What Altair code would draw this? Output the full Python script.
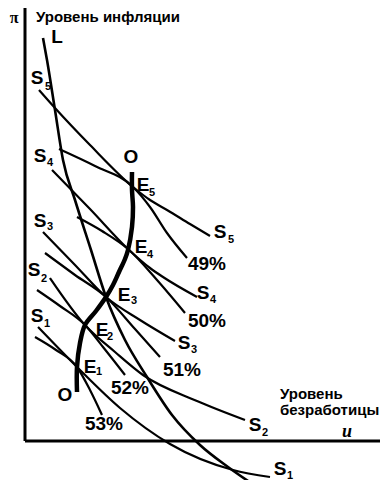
import altair as alt
import pandas as pd

# ---- curves (u = unemployment, pi = inflation, diagram units) ----
L_u = [1.8, 2.2, 3.0, 3.8, 5.0, 6.6, 8.1, 10.0, 12.2, 14.7, 17.5, 20.3, 23.2]
L_pi = [40.3, 38.1, 33.1, 28.1, 24.1, 19.1, 14.4, 10.1, 6.4, 2.6, -0.4, -2.6, -4.6]

S5_u = [1.4, 3.0, 6.5, 10.8, 12.5, 14.2, 16.5, 18.5]
S5_pi = [35.1, 33.3, 29.6, 25.4, 24.1, 23.1, 21.7, 20.5]
V49_u = [3.4, 7.0, 10.8, 12.5, 14.2, 16.2]
V49_pi = [29.2, 27.5, 25.4, 23.4, 20.8, 18.3]

S4_u = [2.7, 6.5, 10.3, 12.5, 13.8, 17.2]
S4_pi = [27.1, 23.2, 19.2, 17.3, 16.4, 14.4]
V50_u = [5.2, 7.7, 10.3, 13.2, 16.0]
V50_pi = [22.4, 21.0, 19.2, 16.1, 12.8]

S3_u = [1.8, 5.0, 8.1, 11.5, 15.0]
S3_pi = [20.9, 17.6, 14.4, 12.1, 10.0]
V51_u = [2.0, 5.0, 8.1, 11.0, 13.5]
V51_pi = [18.8, 16.6, 14.4, 11.2, 8.4]

S2_u = [2.5, 6.0, 9.0, 11.8, 17.2, 22.0]
S2_pi = [16.3, 11.6, 8.9, 6.6, 4.0, 2.1]
V52_u = [1.2, 3.5, 6.0, 7.8, 10.0]
V52_pi = [15.1, 13.5, 11.6, 9.4, 6.6]

S1_u = [1.3, 5.2, 9.5, 14.5, 20.8, 24.5]
S1_pi = [11.4, 7.4, 3.3, -0.3, -2.9, -3.6]
V53_u = [1.0, 3.1, 5.2, 6.5, 7.7]
V53_pi = [10.4, 9.1, 7.4, 5.1, 2.6]

# thick equilibrium path O-O through E1..E5
OO_u = [5.2, 5.2, 5.5, 6.0, 7.1, 8.1, 8.8, 9.4, 10.0, 10.3, 10.7, 10.8, 10.7, 10.7]
OO_pi = [4.9, 7.4, 9.8, 11.6, 13.0, 14.4, 15.6, 16.9, 18.2, 19.1, 21.4, 23.4, 25.1, 26.9]

# axes
axis_u_end = 36.0
axis_pi_top = 43.8

# ---- labels ----
main_text = ["S", "S", "S", "S", "S", "S", "S", "S", "S", "S",
             "E", "E", "E", "E", "E", "O", "O", "L",
             "49%", "50%", "51%", "52%", "53%"]
main_u = [1.2, 1.5, 1.5, 0.9, 1.2, 19.5, 17.8, 15.9, 23.0, 25.5,
          11.8, 11.6, 9.9, 7.7, 6.5, 10.6, 4.0, 3.2,
          18.2, 18.2, 15.7, 10.5, 7.9]
main_pi = [36.3, 28.5, 22.0, 17.1, 12.5, 20.9, 14.8, 9.8, 1.6, -2.8,
           25.6, 19.4, 14.6, 11.1, 7.4, 28.4, 4.6, 40.4,
           17.7, 12.0, 7.1, 5.3, 1.7]

sub_text = ["5", "4", "3", "2", "1", "5", "4", "3", "2", "1",
            "5", "4", "3", "2", "1"]
sub_u = [2.3, 2.5, 2.5, 1.9, 2.2, 20.6, 18.8, 16.9, 24.0, 26.5,
         12.7, 12.5, 10.9, 8.5, 7.4]
sub_pi = [35.4, 27.8, 21.4, 16.2, 11.7, 20.1, 14.1, 9.1, 0.8, -3.5,
          24.8, 18.6, 14.0, 10.4, 6.9]

title_text = ["Уровень инфляции", "Уровень", "безработицы"]
title_u = [1.1, 25.5, 25.5]
title_pi = [42.4, 4.7, 3.1]

pi_text = ["π"]
pi_u = [-1.1]
pi_pi = [42.3]

u_text = ["u"]
u_u = [32.2]
u_pi = [0.9]

# ---- build tables ----
thin = {"S5": (S5_u, S5_pi), "49": (V49_u, V49_pi),
        "S4": (S4_u, S4_pi), "50": (V50_u, V50_pi),
        "S3": (S3_u, S3_pi), "51": (V51_u, V51_pi),
        "S2": (S2_u, S2_pi), "52": (V52_u, V52_pi),
        "S1": (S1_u, S1_pi), "53": (V53_u, V53_pi)}


def table(curves):
    rows = []
    for name, (us, ps) in curves.items():
        for i, (u, p) in enumerate(zip(us, ps)):
            rows.append({"curve": name, "i": i, "u": u, "pi": p})
    return pd.DataFrame(rows)


thin_df = table(thin)
L_df = table({"L": (L_u, L_pi)})
OO_df = table({"OO": (OO_u, OO_pi)})
axes_df = pd.DataFrame({"u": [0.0, 0.0], "pi": [0.0, 0.0],
                        "u2": [0.0, axis_u_end], "pi2": [axis_pi_top, 0.0]})
main_df = pd.DataFrame({"t": main_text, "u": main_u, "pi": main_pi})
sub_df = pd.DataFrame({"t": sub_text, "u": sub_u, "pi": sub_pi})
title_df = pd.DataFrame({"t": title_text, "u": title_u, "pi": title_pi})
pi_df = pd.DataFrame({"t": pi_text, "u": pi_u, "pi": pi_pi})
u_df = pd.DataFrame({"t": u_text, "u": u_u, "pi": u_pi})

xs = alt.Scale(domain=[-1.7, 35.5], nice=False, zero=False)
ys = alt.Scale(domain=[-3.9, 43.3], nice=False, zero=False)
X = alt.X("u:Q", scale=xs, axis=None)
Y = alt.Y("pi:Q", scale=ys, axis=None)
FONT = "Liberation Sans, Arial, Helvetica, sans-serif"
SERIF = "Liberation Serif, Times New Roman, serif"

axes = alt.Chart(axes_df).mark_rule(color="black", strokeWidth=3).encode(
    x=X, y=Y, x2="u2:Q", y2="pi2:Q")

thin_lines = alt.Chart(thin_df).mark_line(
    color="black", strokeWidth=2.2, interpolate="monotone").encode(
    x=X, y=Y, detail="curve:N", order="i:Q")

L_line = alt.Chart(L_df).mark_line(
    color="black", strokeWidth=2.6, interpolate="monotone").encode(
    x=X, y=Y, order="i:Q")

OO_line = alt.Chart(OO_df).mark_line(
    color="black", strokeWidth=4.5, interpolate="catmull-rom").encode(
    x=X, y=Y, order="i:Q")

main_lbl = alt.Chart(main_df).mark_text(
    font=FONT, fontSize=19, fontWeight="bold", color="black",
    align="center", baseline="middle").encode(x=X, y=Y, text="t:N")

sub_lbl = alt.Chart(sub_df).mark_text(
    font=FONT, fontSize=11, fontWeight="bold", color="black",
    align="center", baseline="middle").encode(x=X, y=Y, text="t:N")

title_lbl = alt.Chart(title_df).mark_text(
    font=FONT, fontSize=15, fontWeight="bold", color="black",
    align="left", baseline="middle").encode(x=X, y=Y, text="t:N")

pi_lbl = alt.Chart(pi_df).mark_text(
    font=SERIF, fontSize=16, fontWeight="bold", color="black",
    align="center", baseline="middle").encode(x=X, y=Y, text="t:N")

u_lbl = alt.Chart(u_df).mark_text(
    font=SERIF, fontSize=18, fontWeight="bold", fontStyle="italic",
    color="black", align="center", baseline="middle").encode(
    x=X, y=Y, text="t:N")

chart = alt.layer(axes, thin_lines, L_line, OO_line, main_lbl, sub_lbl,
                  title_lbl, pi_lbl, u_lbl).properties(
    width=372, height=472,
    autosize=alt.AutoSizeParams(type="none"),
    padding=0, background="white",
).configure_view(stroke=None)

chart.save("out.html", embed_options={"renderer": "svg", "actions": False})
